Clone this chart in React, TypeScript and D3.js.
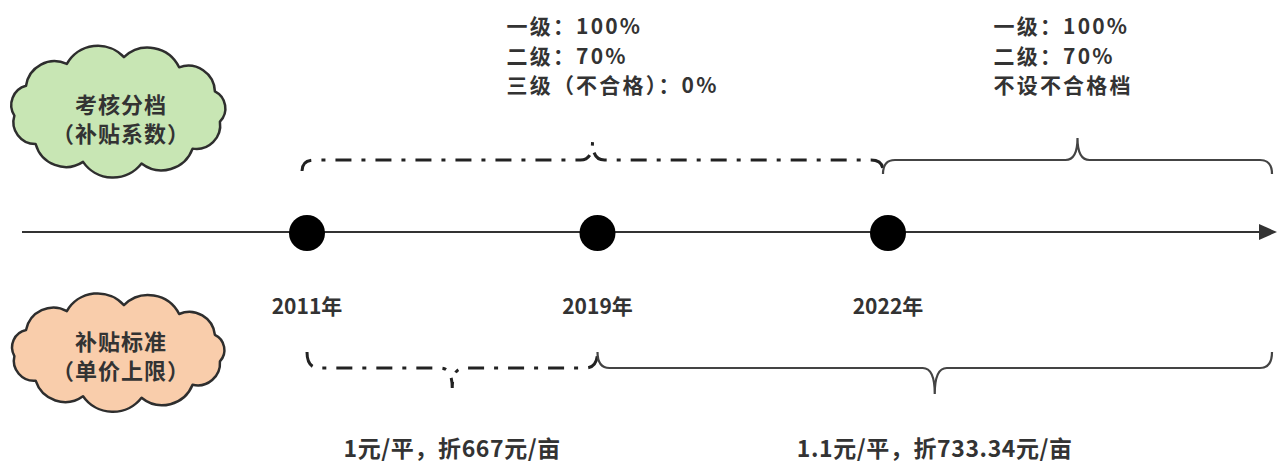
import React, { useEffect, useRef } from "react";
import * as d3 from "d3";

// timeline milestones
const years = ["2011年", "2019年", "2022年"];

// left side category clouds
const clouds = [
  { lines: ["考核分档", "（补贴系数）"], fill: "#c8e6b4" },
  { lines: ["补贴标准", "（单价上限）"], fill: "#f9cdab" },
];

// upper row: subsidy coefficient periods, each with its note
const coefPeriods = [
  { from: "2011年", to: "2022年", dashed: true, lines: ["一级：100%", "二级：70%", "三级（不合格）：0%"] },
  { from: "2022年", to: null, dashed: false, lines: ["一级：100%", "二级：70%", "不设不合格档"] },
];

// lower row: unit price cap periods
const pricePeriods = [
  { from: "2011年", to: "2019年", dashed: true, label: "1元/平，折667元/亩" },
  { from: "2019年", to: null, dashed: false, label: "1.1元/平，折733.34元/亩" },
];

const W = 1277;
const H = 465;
const FONT = "'Noto Sans CJK SC', 'Noto Sans', sans-serif";
const INK = "#333333";

export default function App() {
  const ref = useRef<SVGSVGElement>(null);

  useEffect(() => {
    if (!ref.current) return;
    const svg = d3.select(ref.current);
    svg.selectAll("*").remove();

    const x = d3.scalePoint<string>().domain(years).range([307, 888]);
    const xEnd = 1272;
    const axisY = 232;

    // --- clouds ---
    const cloudPath = (cx: number, cy: number, rx: number, ry: number) => {
      const n = 11;
      const pts = d3.range(n).map(i => {
        const a = (i / n) * Math.PI * 2 + 0.2;
        return [cx + rx * Math.cos(a), cy + ry * Math.sin(a)];
      });
      let d = `M${pts[0][0]},${pts[0][1]}`;
      for (let i = 1; i <= n; i++) {
        const [x1, y1] = pts[i % n];
        const [x0, y0] = pts[i - 1];
        const r = Math.hypot(x1 - x0, y1 - y0) * 0.62;
        d += ` A${r},${r} 0 0 1 ${x1},${y1}`;
      }
      return d + "Z";
    };

    const cloudPos = [
      { cx: 118, cy: 111, rx: 104, ry: 54 },
      { cx: 118, cy: 352, rx: 104, ry: 47 },
    ];
    clouds.forEach((c, i) => {
      const pos = cloudPos[i];
      svg.append("path")
        .attr("d", cloudPath(pos.cx, pos.cy, pos.rx, pos.ry))
        .attr("fill", c.fill)
        .attr("stroke", "#2e2e2e")
        .attr("stroke-width", 2.5)
        .attr("stroke-linejoin", "round");
      c.lines.forEach((t, j) => {
        svg.append("text")
          .attr("x", pos.cx + 3)
          .attr("y", pos.cy - 8 + j * 29 - (i === 1 ? 4 : 0))
          .attr("text-anchor", "middle")
          .attr("dominant-baseline", "central")
          .style("font-family", FONT)
          .style("font-size", "22px")
          .style("font-weight", "700")
          .style("letter-spacing", "1px")
          .attr("fill", INK)
          .text(t);
      });
    });

    // --- axis line with arrow ---
    svg.append("line")
      .attr("x1", 22).attr("x2", 1262)
      .attr("y1", axisY).attr("y2", axisY)
      .attr("stroke", INK).attr("stroke-width", 2);
    svg.append("path")
      .attr("d", `M1259,${axisY - 8} L1277,${axisY} L1259,${axisY + 8} Z`)
      .attr("fill", INK);

    // --- milestones ---
    years.forEach(yr => {
      svg.append("circle")
        .attr("cx", x(yr)!).attr("cy", axisY + 1).attr("r", 18)
        .attr("fill", "#000");
      svg.append("text")
        .attr("x", x(yr)!)
        .attr("y", axisY + 73)
        .attr("text-anchor", "middle")
        .attr("dominant-baseline", "central")
        .style("font-family", FONT)
        .style("font-size", "21px")
        .style("font-weight", "700")
        .attr("fill", INK)
        .text(yr);
    });

    // --- curly braces ---
    // dir = -1 : peak points up (top row), dir = 1 : peak points down
    const brace = (x0: number, x1: number, y: number, hook: number, peak: number, dir: number) => {
      const tip = (x0 + x1) / 2;
      const r = 12;
      return [
        `M${x0},${y - dir * hook}`,
        `Q${x0},${y} ${x0 + r},${y}`,
        `L${tip - r},${y}`,
        `Q${tip},${y} ${tip},${y + dir * peak}`,
        `Q${tip},${y} ${tip + r},${y}`,
        `L${x1 - r},${y}`,
        `Q${x1},${y} ${x1},${y - dir * hook}`,
      ].join(" ");
    };

    coefPeriods.forEach((p, i) => {
      const x0 = x(p.from)! - 5;
      const x1 = p.to ? x(p.to)! - 5 : xEnd;
      const tip = (x0 + x1) / 2;
      svg.append("path")
        .attr("d", brace(x0, x1, 160, p.dashed ? 11 : 14, p.dashed ? 18 : 22, -1))
        .attr("fill", "none")
        .attr("stroke", p.dashed ? "#222" : "#444")
        .attr("stroke-width", p.dashed ? 3 : 2.2)
        .attr("stroke-dasharray", p.dashed ? "16,10,4,10" : null);
      const left = tip - (i === 0 ? 86 : 84);
      p.lines.forEach((t, j) => {
        svg.append("text")
          .attr("x", left)
          .attr("y", 25 + j * 29.5)
          .attr("dominant-baseline", "central")
          .style("font-family", FONT)
          .style("font-size", "21px")
          .style("font-weight", "700")
          .style("letter-spacing", "2.2px")
          .attr("fill", INK)
          .text(t);
      });
    });

    pricePeriods.forEach(p => {
      const x0 = x(p.from)!;
      const x1 = p.to ? x(p.to)! : xEnd;
      const tip = (x0 + x1) / 2;
      svg.append("path")
        .attr("d", brace(x0, x1, 368, 16, p.dashed ? 20 : 26, 1))
        .attr("fill", "none")
        .attr("stroke", p.dashed ? "#222" : "#444")
        .attr("stroke-width", p.dashed ? 3 : 2.2)
        .attr("stroke-dasharray", p.dashed ? "16,10,4,10" : null);
      svg.append("text")
        .attr("x", tip)
        .attr("y", 447)
        .attr("text-anchor", "middle")
        .attr("dominant-baseline", "central")
        .style("font-family", FONT)
        .style("font-size", "23px")
        .style("font-weight", "700")
        .style("letter-spacing", "0.6px")
        .attr("fill", INK)
        .text(p.label);
    });
  }, []);

  return (
    <svg
      ref={ref}
      width={W}
      height={H}
      style={{ position: "absolute", left: 0, top: 0, background: "#fff" }}
    />
  );
}
